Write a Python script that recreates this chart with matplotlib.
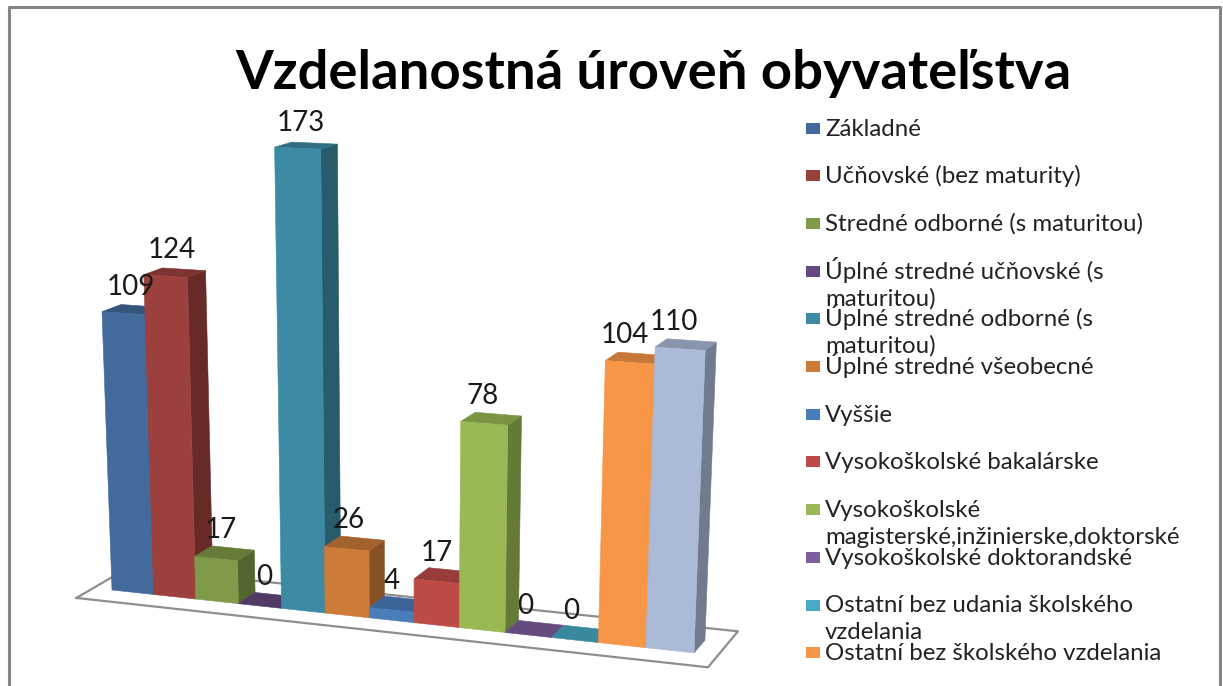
#!/bin/env python3
import numpy as np
import matplotlib
matplotlib.use('Agg')
import matplotlib.pyplot as plt

plt.rcParams['font.family'] = ['Lato', 'DejaVu Sans']

title = "Vzdelanostná úroveň obyvateľstva"

values = [109, 124, 17, 0, 173, 26, 4, 17, 78, 0, 0, 104, 110]
front_colors = ['#426A9C', '#9C403D', '#7F9A48', '#64487F', '#3C8AA4', '#CC7B38', '#4A7EBB',
                '#BE4B48', '#98B954', '#7D5FA0', '#46AAC5', '#F79646', '#AABAD7']
legend_labels = ["Základné",
                 "Učňovské (bez maturity)",
                 "Stredné odborné (s maturitou)",
                 "Úplné stredné učňovské (s\nmaturitou)",
                 "Úplné stredné odborné (s\nmaturitou)",
                 "Úplné stredné všeobecné",
                 "Vyššie",
                 "Vysokoškolské bakalárske",
                 "Vysokoškolské\nmagisterské,inžinierske,doktorské",
                 "Vysokoškolské doktorandské",
                 "Ostatní bez udania školského\nvzdelania",
                 "Ostatní bez školského vzdelania"]

# perspective of the chart floor
# columns: along the bars, into depth, up the value axis, origin
M = np.array([[40.73, 20.04, -0.1232, 112.0],
              [1.04, -2.65, -2.649, 590.0],
              [-0.00582, 0.0141, -0.000308, 1.0]])


def project(i, d, v):
    px, py, pw = M @ np.array([i, d, v, 1.0])
    return px / pw, py / pw


def shade(color, k):
    return tuple(np.array(matplotlib.colors.to_rgb(color)) * k)


def face(ax, corners, color, zorder=2):
    pts = [project(*c) for c in corners]
    ax.fill([p[0] for p in pts], [p[1] for p in pts], color=color, lw=0.4, zorder=zorder)


fig = plt.figure(figsize=(12.23, 6.86), dpi=100)
ax = fig.add_axes([0, 0, 1, 1])
ax.set_xlim(0, 1223)
ax.set_ylim(686, 0)
ax.axis('off')

# outer frame, open at the bottom
ax.plot([8.5, 8.5, 1220, 1220], [686, 7, 7, 686], color='#858585', lw=2.2, zorder=1)

# floor
floor = [(-0.45, -0.9, 0), (13.49, -0.9, 0), (13.49, 1.93, 0), (-0.45, 1.93, 0), (-0.45, -0.9, 0)]
pts = [project(*c) for c in floor]
ax.plot([p[0] for p in pts], [p[1] for p in pts], color='#8E8E8E', lw=1.6, zorder=1.5)

for i, (v, col) in enumerate(zip(values, front_colors)):
    if v > 0:
        face(ax, [(i + 1, 0, 0), (i + 1, 1, 0), (i + 1, 1, v), (i + 1, 0, v)], shade(col, 0.66))
    face(ax, [(i, 0, v), (i + 1, 0, v), (i + 1, 1, v), (i, 1, v)], shade(col, 0.8))
    if v > 0:
        face(ax, [(i, 0, 0), (i + 1, 0, 0), (i + 1, 0, v), (i, 0, v)], col)

for i, v in enumerate(values):
    x, y = project(i + 0.5, 0.5, v)
    ax.text(x - 2 - 0.8 * i, y - 23, str(v), ha='center', va='center', fontsize=20,
            color='#1a1a1a', zorder=5)

# legend, last entry of the original is cut off
for k, label in enumerate(legend_labels):
    y0 = 128 + 47.7 * k
    ax.fill([806, 820, 820, 806], [y0 - 5.5, y0 - 5.5, y0 + 5.5, y0 + 5.5], color=front_colors[k], lw=0)
    for j, line in enumerate(label.split('\n')):
        ax.text(825, y0 + 7.5 + 26.5 * j, line, ha='left', va='baseline', fontsize=17.3, color='#222222')

ax.text(653.5, 73, title, ha='center', va='center', fontsize=39.2, fontweight='bold', color='black')

fig.savefig('out.png', dpi=100)
